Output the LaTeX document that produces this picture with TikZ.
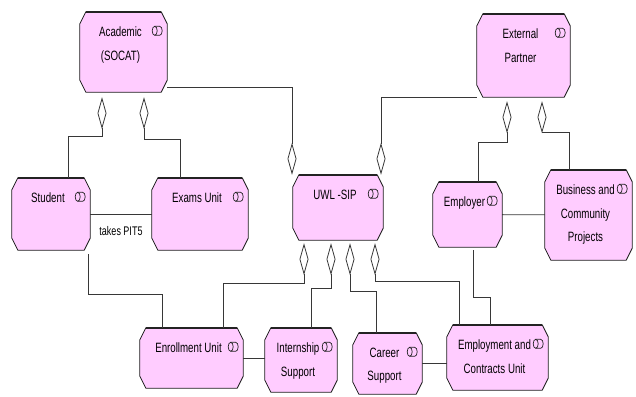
\documentclass[tikz,border=0pt]{standalone}
\usepackage{fontspec}
\setmainfont{Liberation Sans}[FakeStretch=0.72]
\usetikzlibrary{arrows.meta,positioning,calc,backgrounds}
\definecolor{rolefill}{RGB}{255,204,255}
\definecolor{roleline}{RGB}{35,35,35}
\definecolor{wire}{RGB}{55,55,55}

\tikzset{
  roleicon/.pic={
    \draw[roleline, line width=0.7pt] (-2.5,0) ellipse [x radius=2.5, y radius=4.5];
    \draw[roleline, line width=0.7pt] (-2.5,4.5) -- (2.5,4.5)
      arc[start angle=90, end angle=-90, x radius=2.5, y radius=4.5] -- (-2.5,-4.5);
  }
}

\begin{document}
\begin{tikzpicture}[x=1pt, y=1pt,
  role/.style={rectangle, draw=none, inner sep=0pt},
  lbl/.style={anchor=north, inner sep=0pt, align=center, xshift=-3pt, yshift=-15pt,
    font=\fontsize{13.5}{23.5}\selectfont},
  link/.style={draw=wire, line width=0.8pt},
  aggstart/.style={link, {Diamond[open, length=32pt, width=9pt]}-},
  aggend/.style={link, -{Diamond[open, length=32pt, width=9pt]}}
]
\useasboundingbox (0,0) rectangle (636,-396);

% Top row.
\node[role, minimum width=87pt, minimum height=80pt,
  label={[lbl]north:Academic\\(SOCAT)}] (academic) at (123.5,-52) {};
\node[role, minimum width=93pt, minimum height=83pt,
  label={[lbl]north:External\\Partner}] (external) at (523.5,-55.5) {};

% Middle row.
\node[role, minimum width=78pt, minimum height=72pt,
  label={[lbl]north:Student}] (student) at (51,-214) {};
\node[role, minimum width=96pt, minimum height=72pt,
  label={[lbl]north:Exams Unit}] (exams) at (200,-214) {};
\node[role, minimum width=90pt, minimum height=65pt,
  label={[lbl]north:UWL -SIP}] (uwl) at (338,-207.5) {};
\node[role, minimum width=69pt, minimum height=65pt,
  label={[lbl]north:Employer}] (employer) at (467.5,-214.5) {};
\node[role, minimum width=87pt, minimum height=90pt,
  label={[lbl]north:Business and\\Community\\Projects}] (business) at (588.5,-215) {};

% Bottom row.
\node[role, minimum width=103pt, minimum height=60pt,
  label={[lbl]north:Enrollment Unit}] (enroll) at (191.5,-358) {};
\node[role, minimum width=72pt, minimum height=64pt,
  label={[lbl]north:Internship\\Support}] (intern) at (301,-360) {};
\node[role, minimum width=69pt, minimum height=61pt,
  label={[lbl]north:Career\\Support}] (career) at (387.5,-363.5) {};
\node[role, minimum width=101pt, minimum height=65pt,
  label={[lbl]north:Employment and\\Contracts Unit}] (employ) at (497.5,-357.5) {};

% Chamfered outlines with shadow, behind the labels.
\begin{pgfonlayer}{background}
\foreach \n in {academic,external,student,exams,uwl,employer,business,enroll,intern,career,employ} {
  \fill[black!38, shift={(3,-3)}]
    ($(\n.north west)+(6,0)$) -- ($(\n.north east)+(-6,0)$) -- ($(\n.north east)+(0,-12)$)
    -- ($(\n.south east)+(0,12)$) -- ($(\n.south east)+(-6,0)$) -- ($(\n.south west)+(6,0)$)
    -- ($(\n.south west)+(0,12)$) -- ($(\n.north west)+(0,-12)$) -- cycle;
  \filldraw[fill=rolefill, draw=roleline, line width=0.8pt, line join=round]
    ($(\n.north west)+(6,0)$) -- ($(\n.north east)+(-6,0)$) -- ($(\n.north east)+(0,-12)$)
    -- ($(\n.south east)+(0,12)$) -- ($(\n.south east)+(-6,0)$) -- ($(\n.south west)+(6,0)$)
    -- ($(\n.south west)+(0,12)$) -- ($(\n.north west)+(0,-12)$) -- cycle;
  \draw[roleline, line width=1.6pt] ($(\n.north west)+(6,0)$) -- ($(\n.north east)+(-6,0)$);
}
\end{pgfonlayer}

\foreach \n in {academic,external,student,exams,uwl,employer,business,enroll,intern,career,employ}
  \pic at ($(\n.east |- \n.north)+(-10,-19)$) {roleicon};

% Aggregations.
\draw[aggstart] ([xshift=-21.5pt, yshift=-5pt]academic.south) -- ++(0,-39) -| ([xshift=17pt]student.north);
\draw[aggstart] ([xshift=20.5pt, yshift=-5pt]academic.south) -- ++(0,-42) -| ([xshift=-20pt]exams.north);
\draw[aggend] ([yshift=-35pt]academic.east) -| ([xshift=-46pt]uwl.north);
\draw[aggend] ([yshift=-42pt]external.west) -| ([xshift=43pt]uwl.north);
\draw[aggstart] ([xshift=-16.5pt, yshift=-4pt]external.south) -- ++(0,-41) -| ([xshift=10.5pt]employer.north);
\draw[aggstart] ([xshift=18.5pt, yshift=-4pt]external.south) -- ++(0,-31) -| ([xshift=-19.5pt]business.north);
\draw[aggstart] ([xshift=-34pt, yshift=-3pt]uwl.south) -- ++(0,-40) -| ([xshift=31.5pt]enroll.north);
\draw[aggstart] ([xshift=-7pt, yshift=-3pt]uwl.south) -- ++(0,-45) -| ([xshift=10pt]intern.north);
\draw[aggstart] ([xshift=12pt, yshift=-3pt]uwl.south) -- ++(0,-48) -| ([xshift=-11.5pt]career.north);
\draw[aggstart] ([xshift=37pt, yshift=-3pt]uwl.south) -- ++(0,-38) -| ([xshift=-38.5pt]employ.north);

% Plain associations.
\draw[link] (student) -- node[below=9pt, font=\fontsize{12.5}{14}\selectfont] (takes) {takes PIT5} (exams);
\draw[link] (employer) -- (business);
\draw[link] (enroll.east) -- (intern.west |- enroll.east);
\draw[link] (career.east) -- (employ.west |- career.east);
\draw[link] ([xshift=37pt, yshift=-4pt]student.south) -- ++(0,-40) -| ([xshift=-29.5pt]enroll.north);
\draw[link] ([xshift=5.5pt, yshift=-3pt]employer.south) -- ++(0,-47) -| ([xshift=-7.5pt]employ.north);

\end{tikzpicture}
\end{document}
